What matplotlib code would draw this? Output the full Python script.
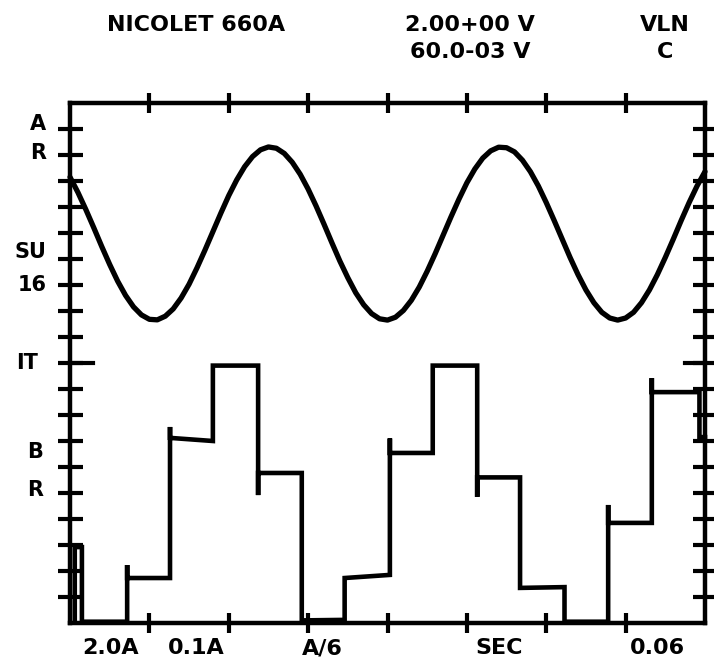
import numpy as np
import matplotlib
matplotlib.use('Agg')
import matplotlib.pyplot as plt

plt.rcParams['font.family'] = 'DejaVu Sans'
plt.rcParams['font.weight'] = 'bold'

# upper trace: sine, read every 0.1 division (8 divisions across)
sine_t = np.linspace(0, 8, 81)
sine_v = [17.15, 16.56, 15.90, 15.20, 14.48, 13.79, 13.15, 12.60, 12.16, 11.85,
          11.68, 11.66, 11.80, 12.08, 12.50, 13.03, 13.66, 14.34, 15.05, 15.76,
          16.44, 17.04, 17.55, 17.94, 18.20, 18.31, 18.26, 18.06, 17.72, 17.26,
          16.69, 16.04, 15.34, 14.62, 13.92, 13.28, 12.70, 12.24, 11.90, 11.70,
          11.65, 11.76, 12.02, 12.41, 12.92, 13.53, 14.20, 14.91, 15.62, 16.30,
          16.93, 17.46, 17.88, 18.16, 18.30, 18.28, 18.12, 17.80, 17.36, 16.81,
          16.17, 15.48, 14.77, 14.06, 13.40, 12.81, 12.32, 11.95, 11.73, 11.65,
          11.73, 11.95, 12.32, 12.81, 13.40, 14.06, 14.76, 15.48, 16.17, 16.81,
          17.36]

# lower trace: sampled/held steps (with edge glitches)
step_t = [0.06, 0.06, 0.15, 0.15, 0.72, 0.72, 0.72, 1.26, 1.26, 1.26,
          1.80, 1.80, 2.37, 2.37, 2.37, 2.92, 2.92, 3.46, 3.46, 4.03,
          4.03, 4.03, 4.57, 4.57, 5.13, 5.13, 5.13, 5.67, 5.67, 6.23,
          6.23, 6.78, 6.78, 6.78, 7.33, 7.33, 7.33, 7.93, 7.93, 8.00]
step_v = [0.05, 2.92, 2.92, 0.05, 0.05, 2.23, 1.73, 1.73, 7.54, 7.12,
          7.00, 9.90, 9.90, 4.92, 5.77, 5.77, 0.10, 0.12, 1.73, 1.85,
          7.10, 6.54, 6.54, 9.90, 9.90, 4.85, 5.60, 5.60, 1.35, 1.38,
          0.05, 0.05, 4.54, 3.85, 3.85, 9.42, 8.88, 8.88, 7.15, 7.15]

header = [('NICOLET 660A', 196, 23), ('2.00+00 V', 470, 23), ('VLN', 665, 23),
          ('60.0-03 V', 470, 50), ('C', 665, 50)]
left_labels = [('A', 38, 122), ('R', 38, 151), ('SU', 30, 250), ('16', 32, 283),
               ('IT', 27, 361), ('B', 35, 450), ('R', 35, 488)]
bottom_labels = [('2.0A', 111, 646), ('0.1A', 196, 646), ('A/6', 322, 646),
                 ('SEC', 499, 646), ('0.06', 657, 646)]

W, H = 714, 672
fig = plt.figure(figsize=(W / 100, H / 100), dpi=100)
ax = fig.add_axes([70 / W, 1 - 623 / H, 635 / W, 520 / H])

ax.plot(sine_t, sine_v, color='black', lw=3.8, solid_capstyle='round', clip_on=False)
ax.plot(step_t, step_v, color='black', lw=3.3, solid_joinstyle='miter', clip_on=False)

# long centre graticule marks
ax.plot([0, 0.29], [10, 10], color='black', lw=3, clip_on=False)
ax.plot([7.75, 8], [10, 10], color='black', lw=3, clip_on=False)

ax.set_xlim(0, 8)
ax.set_ylim(0, 20)
ax.set_xticks(range(1, 8))
ax.set_yticks(range(1, 20))
ax.tick_params(axis='x', direction='inout', length=14, width=3, top=True,
               labelbottom=False)
ax.tick_params(axis='y', direction='inout', length=18, width=3, right=True,
               labelleft=False)
for s in ax.spines.values():
    s.set_linewidth(3.2)

for txt, x, y in header:
    fig.text(x / W, 1 - y / H, txt, ha='center', va='center_baseline',
             fontsize=16, fontweight='heavy')
for txt, x, y in left_labels:
    fig.text(x / W, 1 - y / H, txt, ha='center', va='center_baseline',
             fontsize=15, fontweight='heavy')
for txt, x, y in bottom_labels:
    fig.text(x / W, 1 - y / H, txt, ha='center', va='center_baseline',
             fontsize=16, fontweight='heavy')

fig.savefig('out.png', dpi=100, facecolor='white')
